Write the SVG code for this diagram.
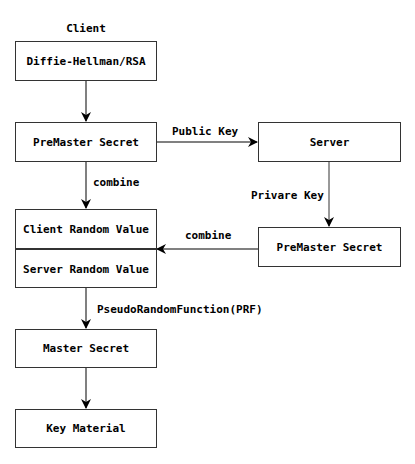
<svg xmlns="http://www.w3.org/2000/svg" width="415" height="464" viewBox="0 0 415 464">
<defs>
<marker id="ah" viewBox="0 0 10 10" refX="9" refY="5" markerWidth="10" markerHeight="10" markerUnits="userSpaceOnUse" orient="auto">
<path d="M0,0 L10,5 L0,10 L3,5 Z" fill="#000"/>
</marker>
<style>
text{font-family:"DejaVu Sans Mono",monospace;font-size:11px;font-weight:bold;fill:#000}
.box{fill:#fff;stroke:#333;stroke-width:1}
.c{fill:none;stroke:#808080;stroke-width:2}
.d{fill:none;stroke:#333;stroke-width:1}
.m{text-anchor:middle}
</style>
</defs>
<rect width="415" height="464" fill="#fff"/>
<g id="connectors">
<line class="c" x1="86" y1="80" x2="86" y2="121" marker-end="url(#ah)"/>
<line class="c" x1="156" y1="142" x2="257" y2="142" marker-end="url(#ah)"/>
<line class="c" x1="86" y1="162" x2="86" y2="208" marker-end="url(#ah)"/>
<line class="d" x1="329" y1="162" x2="329" y2="226" marker-end="url(#ah)"/>
<line class="c" x1="258" y1="249" x2="157" y2="249" marker-end="url(#ah)"/>
<line class="c" x1="86" y1="288" x2="86" y2="328" marker-end="url(#ah)"/>
<line class="c" x1="86" y1="368" x2="86" y2="408" marker-end="url(#ah)"/>
<text x="172" y="135">Public Key</text>
<text x="93" y="186">combine</text>
<text x="251" y="199">Privare Key</text>
<text x="185" y="239">combine</text>
<text x="97" y="313">PseudoRandomFunction(PRF)</text>
</g>
<g id="client-label"><text class="m" x="86" y="32">Client</text></g>
<g id="dh"><rect class="box" x="15.5" y="41.5" width="141" height="39"/><text class="m" x="86" y="64.5">Diffie-Hellman/RSA</text></g>
<g id="pms-client"><rect class="box" x="15.5" y="122.5" width="141" height="39"/><text class="m" x="86" y="145.5">PreMaster Secret</text></g>
<g id="server"><rect class="box" x="258.5" y="122.5" width="142" height="39"/><text class="m" x="329.5" y="145.5">Server</text></g>
<g id="pms-server"><rect class="box" x="258.5" y="227.5" width="142" height="39"/><text class="m" x="329.5" y="250.5">PreMaster Secret</text></g>
<g id="random"><rect class="box" x="15.5" y="209.5" width="141" height="78"/><line x1="15" y1="249" x2="157" y2="249" stroke="#333" stroke-width="2"/><text class="m" x="86" y="232.5">Client Random Value</text><text class="m" x="86" y="272.5">Server Random Value</text></g>
<g id="master"><rect class="box" x="15.5" y="329.5" width="141" height="38"/><text class="m" x="86" y="352">Master Secret</text></g>
<g id="keymat"><rect class="box" x="15.5" y="409.5" width="141" height="38"/><text class="m" x="86" y="432">Key Material</text></g>
</svg>
